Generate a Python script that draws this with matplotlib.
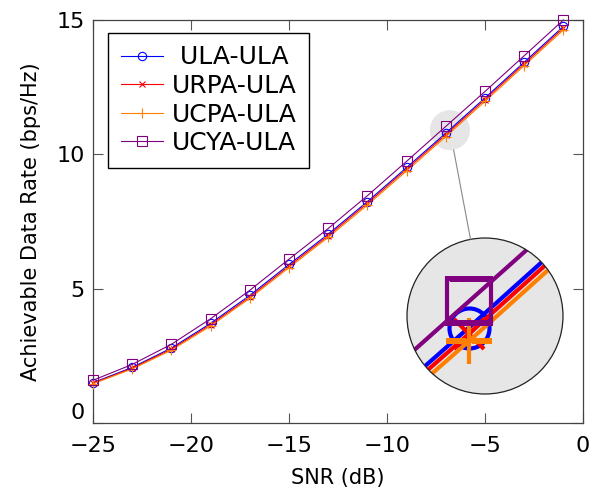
import matplotlib
matplotlib.use("Agg")
import matplotlib.pyplot as plt
from matplotlib.patches import Circle, Ellipse, ConnectionPatch
import numpy as np

# data
snr_db = [-25, -23, -21, -19, -17, -15, -13, -11, -9, -7, -5, -3, -1]
rate_ula = [1.50, 2.07, 2.79, 3.71, 4.75, 5.90, 7.03, 8.24, 9.51, 10.79, 12.10, 13.43, 14.76]
rate_urpa = [1.48, 2.04, 2.75, 3.66, 4.69, 5.84, 6.97, 8.18, 9.45, 10.73, 12.04, 13.37, 14.70]
rate_ucpa = [1.46, 2.01, 2.71, 3.61, 4.64, 5.78, 6.91, 8.11, 9.38, 10.66, 11.97, 13.30, 14.63]
rate_ucya = [1.59, 2.18, 2.93, 3.88, 4.94, 6.10, 7.24, 8.46, 9.74, 11.04, 12.34, 13.67, 15.00]

labels = [' ULA-ULA', 'URPA-ULA', 'UCPA-ULA', 'UCYA-ULA']
series = [rate_ula, rate_urpa, rate_ucpa, rate_ucya]
colors = ['#0000ff', '#ff0000', '#ff8000', '#800080']
markers = ['o', 'x', '+', 's']
msizes = [6, 4.5, 7, 6.5]

plt.rcParams['font.family'] = ['DejaVu Sans']

fig = plt.figure(figsize=(6.03, 4.93), dpi=100)
ax = fig.add_axes([93 / 603, 1 - 423 / 493, 490 / 603, 403 / 493])

for y, c, m, ms, lab in zip(series, colors, markers, msizes, labels):
    ax.plot(snr_db, y, color=c, marker=m, markersize=ms, markerfacecolor='none',
            markeredgewidth=0.8, linewidth=0.8, label=lab, clip_on=False, zorder=3)

ax.set_xlim(-25, 0)
ax.set_ylim(0, 15)
ax.set_xticks([-25, -20, -15, -10, -5, 0])
ax.set_yticks([0, 5, 10, 15])
ax.tick_params(direction='in', length=7, width=0.8, color='#555555', labelsize=16,
               top=True, right=True, pad=6)
ax.tick_params(axis='x', pad=9)
ax.get_yticklabels()[0].set_va('bottom')
for sp in ax.spines.values():
    sp.set_color('#444444')
    sp.set_linewidth(0.9)
ax.set_xlabel('SNR (dB)', fontsize=15, labelpad=9)
ax.set_ylabel('Achievable Data Rate (bps/Hz)', fontsize=15, labelpad=11)

leg = ax.legend(loc='upper left', bbox_to_anchor=(108 / 603, 1 - 33 / 493),
                bbox_transform=fig.transFigure, borderaxespad=0, fontsize=18,
                fancybox=False, edgecolor='black', framealpha=1, handlelength=1.7,
                handletextpad=0.35, borderpad=0.5, labelspacing=0.18)
leg.get_frame().set_linewidth(1.0)

# spy glass
cx, cy = -6.79, 10.9
rx, ry = 20 / 19.6, 20 / 26.87
ax.add_patch(Ellipse((cx, cy), 2 * rx, 2 * ry, facecolor='#e6e6e6', edgecolor='none', zorder=1))

ins = fig.add_axes([(485 - 78) / 603, 1 - (316 + 78) / 493, 156 / 603, 156 / 493])
ins.set_xlim(cx - rx, cx + rx)
ins.set_ylim(cy - ry, cy + ry)
ins.axis('off')
bg = Circle((0.5, 0.5), 0.5, transform=ins.transAxes, facecolor='#e6e6e6', edgecolor='none', zorder=0)
ins.add_patch(bg)
for y, c, m, ms in zip(series, colors, markers, msizes):
    ln, = ins.plot(snr_db, y, color=c, marker=m, markersize=ms * 4.8, markerfacecolor='none',
                   markeredgewidth=3, linewidth=3, zorder=2)
    ln.set_clip_path(bg)
ins.add_patch(Circle((0.5, 0.5), 0.5, transform=ins.transAxes, facecolor='none',
                     edgecolor='#222222', linewidth=0.9, zorder=5, clip_on=False))

con = ConnectionPatch(xyA=(cx, cy), coordsA=ax.transData, xyB=(0.5, 0.5), coordsB=ins.transAxes,
                      arrowstyle='-', color='#888888', linewidth=0.8,
                      shrinkA=20 * 0.72, shrinkB=78 * 0.72)
fig.add_artist(con)

fig.savefig('out.png', dpi=100)
